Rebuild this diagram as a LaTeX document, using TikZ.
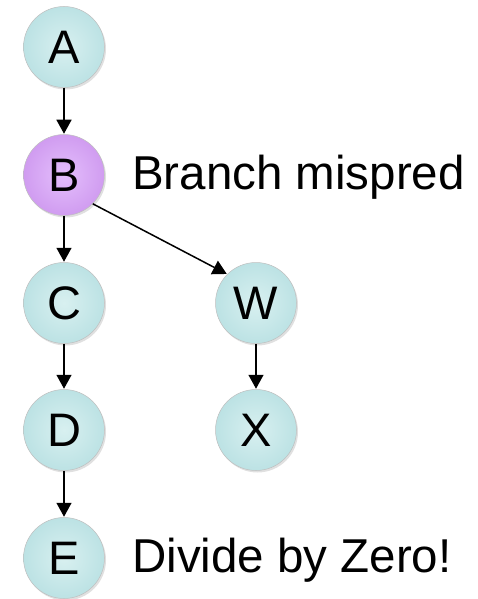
\documentclass[tikz,border=0pt]{standalone}
\usepackage{fontspec}
\setmainfont{Liberation Sans}
\usetikzlibrary{arrows.meta,shadows}
\definecolor{aquain}{RGB}{216,240,240}
\definecolor{aquaout}{RGB}{188,226,228}
\definecolor{lilacin}{RGB}{228,190,252}
\definecolor{lilacout}{RGB}{208,156,240}
\tikzset{
  x=1pt, y=-1pt,
  ball/.style={circle, minimum size=81pt, inner sep=0pt, draw=black!25, line width=0.5pt,
    inner color=aquain, outer color=aquaout,
    drop shadow={shadow xshift=1.5pt, shadow yshift=-2pt, opacity=0.2, fill=black!60},
    font=\fontsize{47}{50}\selectfont},
  hotball/.style={ball, inner color=lilacin, outer color=lilacout},
  note/.style={anchor=west, inner sep=0pt, font=\fontsize{47.5}{52}\selectfont},
  flow/.style={line width=1.5pt, -{Triangle[length=14pt,width=15pt]}, shorten >=0.5pt}
}
\begin{document}
\begin{tikzpicture}
\useasboundingbox (0,0) rectangle (477,599);
\node[ball]    (A) at (64,47)  {A};
\node[hotball] (B) at (64,175) {B};
\node[ball]    (C) at (64,303) {C};
\node[ball]    (D) at (64,430) {D};
\node[ball]    (E) at (64,558) {E};
\node[ball]    (W) at (256,303) {W};
\node[ball]    (X) at (256,430) {X};
\node[note] (bm) at (132,177) {Branch mispred};
\node[note] (dz) at (132,560) {Divide by Zero!};
\draw[flow] (A) -- (B);
\draw[flow] (B) -- (C);
\draw[flow] (C) -- (D);
\draw[flow] (D) -- (E);
\draw[flow] (W) -- (X);
\draw[flow] (B.-45) -- (W.135);
\end{tikzpicture}
\end{document}
